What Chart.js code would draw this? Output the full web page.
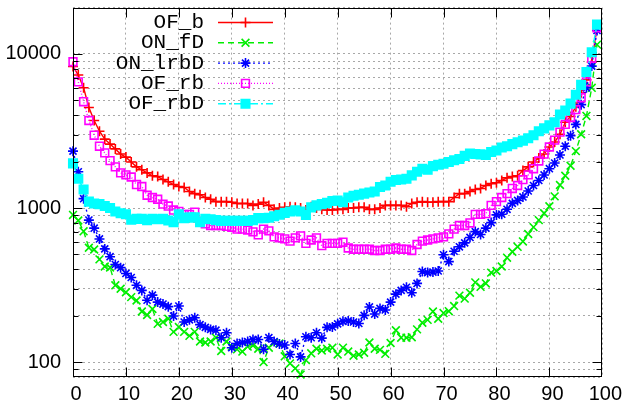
<!DOCTYPE html>
<html>
<head>
<meta charset="utf-8">
<script src="https://cdn.jsdelivr.net/npm/chart.js@4.4.0/dist/chart.umd.min.js"></script>
<style>
  body { margin: 0; background: #fff; }
  #wrap { width: 624px; height: 409px; }
</style>
</head>
<body>
<div id="wrap"><canvas id="chart" width="624" height="409"></canvas></div>
<script>
const xs = [0,1,2,3,4,5,6,7,8,9,10,11,12,13,14,15,16,17,18,19,
  20,21,22,23,24,25,26,27,28,29,30,31,32,33,34,35,36,37,38,39,
  40,41,42,43,44,45,46,47,48,49,50,51,52,53,54,55,56,57,58,59,
  60,61,62,63,64,65,66,67,68,69,70,71,72,73,74,75,76,77,78,79,
  80,81,82,83,84,85,86,87,88,89,90,91,92,93,94,95,96,97,98,99];

const ofB = [8300,7300,6030,4490,3700,3150,2800,2600,2420,2240,
  2140,1990,1850,1770,1690,1620,1600,1530,1480,1420,
  1380,1360,1280,1240,1220,1170,1140,1100,1100,1100,
  1090,1070,1070,1070,1040,1060,1090,1040,980,1000,
  1010,1020,1010,1000,970,1020,1000,980,970,970,
  980,980,1000,1000,1010,1010,980,980,1000,1040,
  1040,1040,1040,1020,1070,1090,1100,1090,1090,1100,
  1100,1100,1170,1240,1240,1280,1320,1340,1400,1440,
  1460,1510,1570,1600,1620,1750,1850,1990,2110,2240,
  2490,2680,3010,3600,3930,4550,5600,6790,8850,14800];

const onFD = [902,830,706,552,538,464,417,411,315,299,
  284,264,251,213,202,221,177,182,191,157,
  169,157,148,157,136,134,136,144,118,136,
  126,121,117,126,128,122,100,124,134,132,
  109,98,91,83,103,114,122,119,122,124,
  112,124,117,110,112,115,134,122,120,113,
  133,161,144,144,145,163,180,188,213,191,
  208,214,231,270,258,282,329,308,324,381,
  390,417,476,520,560,607,678,752,834,925,
  1026,1190,1410,1620,1880,2340,3010,3960,6030,11500];

const onLrbD = [2340,1720,1150,835,740,630,543,483,430,410,
  376,354,315,292,252,272,245,238,229,199,
  231,182,188,194,175,168,163,161,144,155,
  124,132,134,136,140,140,121,144,136,131,
  129,112,132,108,146,144,155,143,168,169,
  177,184,185,182,178,201,228,205,223,218,
  245,276,292,306,282,324,387,381,384,390,
  497,449,524,560,594,644,703,673,741,804,
  902,912,981,1072,1120,1180,1290,1400,1510,1640,
  1800,1960,2210,2520,2950,3490,4690,6030,8340,14200];

const ofRb = [8900,6590,4900,3700,2970,2520,2280,2030,1850,1690,
  1640,1590,1420,1380,1210,1170,1140,1060,1030,970,
  950,910,910,940,820,790,770,770,770,760,
  750,730,730,720,700,670,730,710,650,640,
  630,610,640,660,590,620,640,570,590,590,
  590,600,550,540,540,540,540,530,530,540,
  540,550,540,540,530,580,610,620,630,640,
  650,680,730,770,770,800,910,910,920,1040,
  1100,1170,1240,1340,1400,1530,1640,1800,2020,2240,
  2490,2760,3110,3490,3870,4350,5200,6590,9380,14800];

const ofRbD = [1950,1550,1320,1100,1070,1060,1030,1000,950,925,
  910,840,850,850,835,850,845,850,830,810,
  910,860,870,870,810,850,845,835,825,825,
  825,825,825,825,835,860,860,865,885,905,
  930,950,966,950,900,1010,1040,1060,1080,1110,
  1120,1090,1170,1200,1220,1240,1260,1280,1370,1400,
  1480,1520,1530,1550,1630,1720,1800,1770,1870,1910,
  1940,1990,2040,2080,2180,2260,2240,2230,2210,2310,
  2360,2470,2520,2600,2670,2740,2840,2970,3150,3290,
  3440,3600,4050,4290,4760,5440,6300,7640,10250,15500];

const seriesNames = ['OF_b', 'ON_fD', 'ON_lrbD', 'OF_rb', 'OF_rbD'];
const xTicks = [0,10,20,30,40,50,60,70,80,90,100];
const yTicks = [80,90,100,200,300,400,500,600,700,800,900,
  1000,2000,3000,4000,5000,6000,7000,8000,9000,10000,20000];
const yLabels = [100,1000,10000];

const pts = vals => vals.map((v, i) => ({x: xs[i], y: v}));

function series(name, vals, color, dash, style, radius, fill, order) {
  return {
    label: name,
    data: pts(vals),
    borderColor: color,
    borderWidth: 1.4,
    borderDash: dash,
    pointStyle: style,
    pointRadius: radius,
    pointBorderWidth: 1.6,
    pointBorderColor: color,
    pointBackgroundColor: fill ? color : 'rgba(0,0,0,0)',
    tension: 0,
    clip: false,
    order: order
  };
}

// gnuplot style frame: border with inward tics on all four sides
const framePlugin = {
  id: 'frame',
  afterDatasetsDraw(chart) {
    const {ctx, chartArea: a, scales: {x, y}} = chart;
    const L = Math.round(a.left) + 0.5, R = Math.round(a.right) - 0.5;
    const T = Math.round(a.top) + 0.5, B = Math.round(a.bottom) - 0.5;
    ctx.save();
    ctx.strokeStyle = '#000';
    ctx.lineWidth = 1;
    ctx.setLineDash([]);
    ctx.beginPath();
    yTicks.forEach(v => {
      if (v <= y.min || v >= y.max) return;
      const py = Math.round(y.getPixelForValue(v)) + 0.5;
      const len = yLabels.includes(v) ? 9 : 5;
      ctx.moveTo(L, py); ctx.lineTo(L + len, py);
      ctx.moveTo(R, py); ctx.lineTo(R - len, py);
    });
    xTicks.forEach(v => {
      if (v <= x.min || v >= x.max) return;
      const px = Math.round(x.getPixelForValue(v)) + 0.5;
      ctx.moveTo(px, B); ctx.lineTo(px, B - 9);
      ctx.moveTo(px, T); ctx.lineTo(px, T + 9);
    });
    ctx.stroke();
    ctx.strokeRect(L, T, R - L, B - T);
    ctx.restore();
  }
};

// legend like gnuplot: right aligned names, sample line to the right
const legendPlugin = {
  id: 'gnuLegend',
  afterDraw(chart) {
    const ctx = chart.ctx;
    chart.data.datasets.forEach((ds, i) => {
      const yy = 22.5 + i * 20.3;
      ctx.save();
      ctx.font = '21px "Liberation Mono", monospace';
      ctx.fillStyle = '#000';
      ctx.textAlign = 'right';
      ctx.textBaseline = 'middle';
      ctx.fillText(ds.label, 204, yy);
      ctx.strokeStyle = ds.borderColor;
      ctx.lineWidth = ds.borderWidth;
      ctx.setLineDash(ds.borderDash);
      ctx.beginPath();
      ctx.moveTo(218, yy); ctx.lineTo(273, yy);
      ctx.stroke();
      ctx.setLineDash([]);
      ctx.fillStyle = ds.pointBackgroundColor;
      ctx.strokeStyle = ds.pointBorderColor;
      ctx.lineWidth = ds.pointBorderWidth;
      Chart.helpers.drawPoint(ctx, {pointStyle: ds.pointStyle, radius: ds.pointRadius,
        borderWidth: ds.pointBorderWidth, rotation: 0}, 245.5, yy);
      ctx.restore();
    });
  }
};

new Chart(document.getElementById('chart'), {
  type: 'line',
  data: {
    datasets: [
      series(seriesNames[0], ofB, '#ff0000', [], 'cross', 5, false, 4),
      series(seriesNames[1], onFD, '#00ee00', [6, 4], 'crossRot', 5.5, false, 3),
      series(seriesNames[2], onLrbD, '#0000ff', [2, 3], 'star', 5, false, 2),
      series(seriesNames[3], ofRb, '#ff00ff', [1, 2], 'rect', 5.5, false, 1),
      series(seriesNames[4], ofRbD, '#00ffff', [8, 3, 2, 3], 'rect', 6, true, 0)
    ]
  },
  options: {
    responsive: false,
    animation: false,
    devicePixelRatio: 1,
    layout: { padding: { top: 3, right: 21, left: 0, bottom: 0 } },
    plugins: { legend: { display: false }, tooltip: { enabled: false } },
    scales: {
      x: {
        type: 'linear',
        min: 0,
        max: 100,
        afterBuildTicks: s => { s.ticks = xTicks.map(v => ({value: v})); },
        afterFit: s => { s.height = 32; },
        ticks: {
          color: '#000',
          font: { family: '"Liberation Sans", Arial, sans-serif', size: 20 },
          padding: 5,
          labelOffset: 3,
          maxRotation: 0,
          autoSkip: false
        },
        grid: { color: '#a8a8a8', lineWidth: 1, drawTicks: false },
        border: { display: false, dash: [2, 3] }
      },
      y: {
        type: 'logarithmic',
        min: 80,
        max: 20000,
        afterBuildTicks: s => { s.ticks = yTicks.map(v => ({value: v})); },
        afterFit: s => { s.width = 73; s.paddingTop = 0; s.paddingBottom = 0; },
        ticks: {
          color: '#000',
          font: { family: '"Liberation Sans", Arial, sans-serif', size: 20 },
          padding: 12,
          autoSkip: false,
          callback: v => yLabels.includes(v) ? String(v) : ''
        },
        grid: { color: '#a8a8a8', lineWidth: 1, drawTicks: false },
        border: { display: false, dash: [2, 3] }
      }
    }
  },
  plugins: [framePlugin, legendPlugin]
});
</script>
</body>
</html>
